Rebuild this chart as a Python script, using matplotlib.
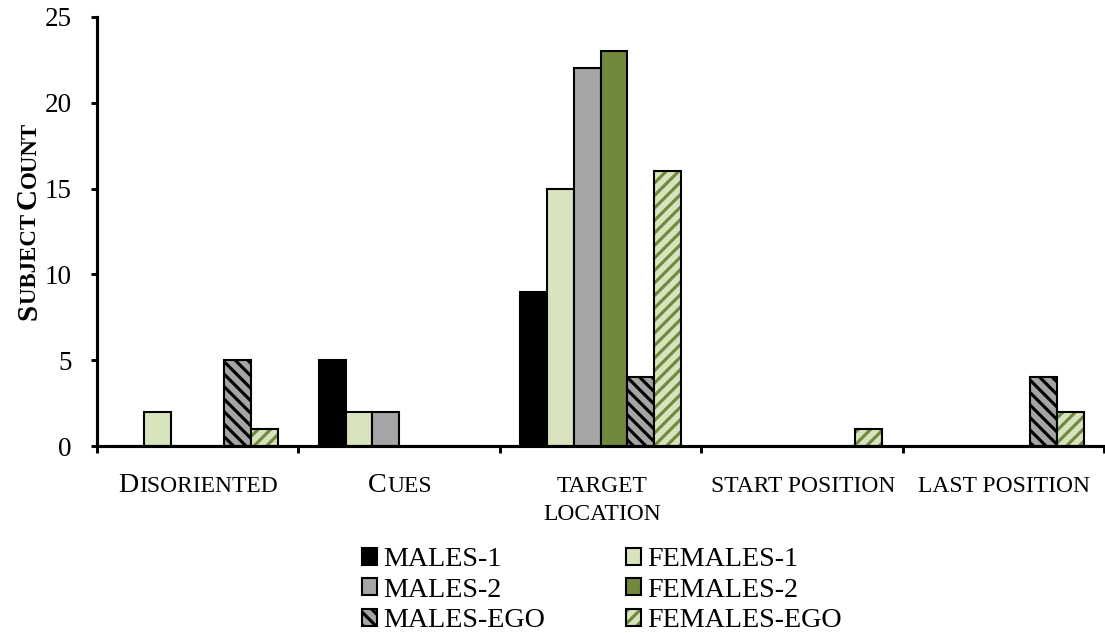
import numpy as np
import matplotlib.pyplot as plt
from matplotlib.patches import Patch
from matplotlib.transforms import IdentityTransform

plt.rcParams['font.family'] = ['Liberation Serif', 'DejaVu Serif']
plt.rcParams['hatch.linewidth'] = 1.5

categories = ['Disoriented', 'Cues', 'Target location', 'Start position', 'Last position']
series = ['MALES-1', 'FEMALES-1', 'MALES-2', 'FEMALES-2', 'MALES-EGO', 'FEMALES-EGO']
males_1 = [0, 5, 9, 0, 0]
females_1 = [2, 2, 15, 0, 0]
males_2 = [0, 2, 22, 0, 0]
females_2 = [0, 0, 23, 0, 0]
males_ego = [5, 0, 4, 0, 4]
females_ego = [1, 0, 16, 1, 2]
yticks = [0, 5, 10, 15, 20, 25]

BLACK = '#000000'
LIGHT = '#d7e4bd'
GRAY = '#a5a5a5'
OLIVE = '#71893f'
BACK = chr(92) * 4   # dense down-right stripes
FWD = '/' * 4        # dense up-right stripes

# (values, face colour, hatch, hatch colour)
styles = [
    (males_1, BLACK, None, None),
    (females_1, LIGHT, None, None),
    (males_2, GRAY, None, None),
    (females_2, OLIVE, None, None),
    (males_ego, GRAY, BACK, BLACK),
    (females_ego, LIGHT, FWD, OLIVE),
]

DPI = 150
fig = plt.figure(figsize=(1105 / DPI, 633 / DPI), dpi=DPI)
ax = fig.add_axes([97 / 1105, 1 - 446 / 633, 1007 / 1105, 429 / 633])

idx = np.arange(len(categories))
w = 0.133
handles = []
for j, (vals, face, hatch, hcol) in enumerate(styles):
    x = idx + (j - 2.5) * w
    if hatch:
        ax.bar(x, vals, w, color=face, edgecolor=hcol, hatch=hatch, linewidth=0)
        ax.bar(x, vals, w, fill=False, edgecolor=BLACK, linewidth=1)
        handles.append((Patch(facecolor=face, edgecolor=hcol, hatch=hatch, linewidth=0),
                        Patch(fill=False, edgecolor=BLACK, linewidth=1)))
    else:
        ax.bar(x, vals, w, color=face, edgecolor=BLACK, linewidth=1)
        handles.append(Patch(facecolor=face, edgecolor=BLACK, linewidth=1))

ax.set_xlim(-0.5, len(categories) - 0.5)
ax.set_ylim(0, 25)
ax.set_yticks(yticks)
ax.set_xticks(np.arange(len(categories) + 1) - 0.5)
ax.set_xticklabels([])
ax.tick_params(axis='y', labelsize=13, length=3, width=1.4, pad=9)
ax.tick_params(axis='x', length=3.4, width=1.4)
for side in ['top', 'right']:
    ax.spines[side].set_visible(False)
for side in ['left', 'bottom']:
    ax.spines[side].set_linewidth(1.5)

order = [0, 2, 4, 1, 3, 5]
fig.legend([handles[i] for i in order], [series[i] for i in order], ncol=2,
           loc='upper left', bbox_to_anchor=(362 / 1105, 1 - 547 / 633),
           frameon=False, fontsize=13.5, handlelength=0.55, handleheight=0.55,
           handletextpad=0.22, columnspacing=2.85, labelspacing=0.2,
           borderpad=0, borderaxespad=0)

renderer = fig.canvas.get_renderer()
H = 633
BIG, SMALL = 13.5, 11.3


def caps(parts, x, y, weight='normal', rotation=0):
    # small-caps text built from pieces of two sizes, centred on (x, y) in pixels
    widths = []
    for s, size in parts:
        probe = fig.text(0, 0, s + 'l', fontsize=size, weight=weight)
        ref = fig.text(0, 0, 'l', fontsize=size, weight=weight)
        widths.append(probe.get_window_extent(renderer).width
                      - ref.get_window_extent(renderer).width)
        probe.remove()
        ref.remove()
    pos = -sum(widths) / 2
    for (s, size), wd in zip(parts, widths):
        if rotation:
            fig.text(x, H - y + pos, s, fontsize=size, weight=weight, rotation=90,
                     rotation_mode='anchor', ha='left', va='baseline',
                     transform=IdentityTransform())
        else:
            fig.text(x + pos, H - y, s, fontsize=size, weight=weight,
                     ha='left', va='baseline', transform=IdentityTransform())
        pos += wd


caps([('D', BIG), ('ISORIENTED', SMALL)], 198, 492)
caps([('C', BIG), ('UES', SMALL)], 400, 492)
caps([('TARGET', SMALL)], 602, 492)
caps([('LOCATION', SMALL)], 602, 520)
caps([('START POSITION', SMALL)], 803, 492)
caps([('LAST POSITION', SMALL)], 1004, 492)
caps([('S', 14), ('UBJECT ', 11), ('C', 14), ('OUNT', 11)], 36, 221,
     weight='bold', rotation=90)

fig.savefig('out.png', dpi=DPI)
